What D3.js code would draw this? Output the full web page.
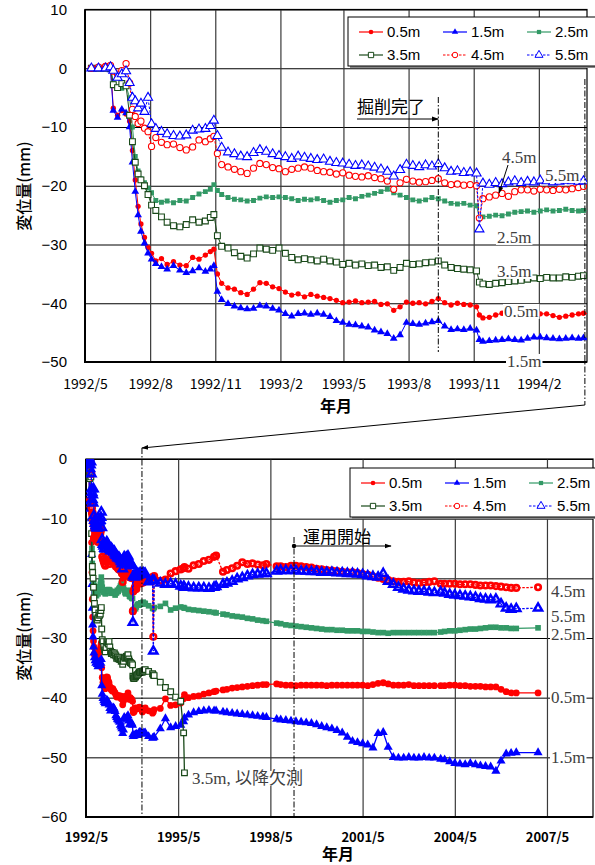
<!DOCTYPE html>
<html>
<head>
<meta charset="utf-8">
<script src="https://cdn.jsdelivr.net/npm/d3@7/dist/d3.min.js"></script>
<style>
  body { margin: 0; background: #fff; }
  svg { display: block; }
</style>
</head>
<body>
<script>
// measurement dates: excavation period (both charts) and the later period (bottom chart)
var dates1 = [
  "1992-05-10","1992-05-20","1992-05-30","1992-06-06","1992-06-10","1992-06-16","1992-06-22","1992-06-28","1992-07-03","1992-07-07",
  "1992-07-11","1992-07-15","1992-07-19","1992-07-24","1992-07-29","1992-08-03","1992-08-09","1992-08-17","1992-08-25","1992-09-03",
  "1992-09-12","1992-09-21","1992-09-30","1992-10-09","1992-10-18","1992-10-25","1992-10-30","1992-11-04","1992-11-10","1992-11-19",
  "1992-11-28","1992-12-07","1992-12-16","1992-12-25","1993-01-03","1993-01-12","1993-01-21","1993-01-30","1993-02-08","1993-02-17",
  "1993-02-26","1993-03-07","1993-03-16","1993-03-25","1993-04-03","1993-04-12","1993-04-21","1993-04-30","1993-05-09","1993-05-18",
  "1993-05-27","1993-06-05","1993-06-14","1993-06-23","1993-07-02","1993-07-11","1993-07-20","1993-07-29","1993-08-07","1993-08-16",
  "1993-08-25","1993-09-03","1993-09-12","1993-09-21","1993-09-30","1993-10-09","1993-10-18","1993-10-27","1993-11-05","1993-11-09",
  "1993-11-14","1993-11-23","1993-12-02","1993-12-11","1993-12-20","1993-12-29","1994-01-07","1994-01-16","1994-01-25","1994-02-03",
  "1994-02-12","1994-02-21","1994-03-02","1994-03-11","1994-03-20","1994-03-29","1994-04-05"
];
var dates2 = [
  "1994-05-15","1994-07-01","1994-07-10","1994-07-20","1994-10-01","1994-12-01","1995-02-01","1995-04-01","1995-06-01","1995-07-05",
  "1995-07-15","1995-09-01","1995-11-01","1996-01-01","1996-03-01","1996-05-01","1996-07-01","1996-07-25","1996-10-15","1996-12-01",
  "1997-02-01","1997-04-01","1997-06-01","1997-08-01","1997-10-01","1997-12-01","1998-02-01","1998-03-15","1998-07-15","1998-09-01",
  "1998-11-01","1999-01-01","1999-03-01","1999-05-01","1999-07-01","1999-09-01","1999-11-01","2000-01-01","2000-03-01","2000-05-01",
  "2000-07-01","2000-09-01","2000-11-01","2001-01-01","2001-03-01","2001-05-01","2001-07-01","2001-09-01","2001-11-01","2002-01-01",
  "2002-03-01","2002-05-01","2002-07-01","2002-09-01","2002-11-01","2003-01-01","2003-03-01","2003-05-01","2003-07-01","2003-09-01",
  "2003-11-15","2004-01-01","2004-03-01","2004-05-01","2004-07-01","2004-09-01","2004-11-01","2005-01-01","2005-03-01","2005-05-01",
  "2005-07-01","2005-09-01","2005-11-01","2006-01-01","2006-03-01","2006-05-01","2007-01-15"
];

// displacement (mm) by depth
var s05a = [
  0, 0.1, 0.5, 0.5, -6.8, -8.0, -7.2, -7.8, -9.0, -14.0,
  -19.0, -23.5, -26.5, -28.8, -30.5, -31.5, -32.8, -32.4, -33.4, -32.9,
  -33.5, -33.6, -32.2, -32.5, -31.8, -31.2, -30.8, -35.0, -36.6, -37.4,
  -37.6, -38.2, -38.5, -37.6, -36.5, -36.6, -37.2, -37.5, -38.1, -38.6,
  -38.4, -38.9, -38.5, -38.8, -39.0, -39.2, -39.5, -39.9, -39.8, -39.6,
  -39.9, -39.8, -39.7, -40.2, -40.1, -41.2, -40.6, -39.8, -40.0, -39.9,
  -40.1, -39.7, -39.2, -39.9, -40.3, -40.0, -40.2, -40.3, -40.6, -42.0,
  -42.5, -42.4, -42.0, -41.7, -41.9, -41.8, -41.8, -41.7, -41.6, -41.8,
  -41.8, -42.1, -42.4, -42.2, -42.0, -41.8, -41.7
];
var s05b = [
  -42.2, -42.6, -42.4, -42.0, -41.8, -40.2, -41.3, -41.2, -40.9, -40.2,
  -39.5, -40.0, -39.8, -39.7, -39.4, -39.2, -39.0, -38.9, -38.7, -38.6,
  -38.4, -38.3, -38.2, -38.1, -38.0, -37.9, -37.8, -37.8, -37.7, -37.8,
  -37.9, -37.9, -38.0, -37.9, -37.9, -37.9, -37.9, -37.9, -38.0, -37.9,
  -37.9, -37.9, -37.9, -37.9, -37.9, -37.9, -38.0, -37.8, -37.6, -37.5,
  -37.7, -37.9, -37.9, -37.9, -37.8, -38.0, -38.0, -38.0, -38.0, -38.0,
  -38.0, -38.0, -37.9, -37.9, -38.0, -38.0, -38.1, -38.1, -38.1, -38.2,
  -38.2, -38.2, -38.6, -39.0, -39.2, -39.2, -39.2
];
var s15a = [
  0, 0, 0, -0.3, -7.2, -8.4, -7.0, -7.6, -10.0, -16.0,
  -21.0, -25.0, -27.8, -29.8, -31.5, -32.5, -33.3, -33.8, -34.2, -33.6,
  -34.4, -34.8, -34.5, -34.0, -34.6, -34.2, -33.6, -38.0, -39.4, -40.1,
  -40.5, -40.8, -41.0, -40.9, -40.4, -40.5, -40.9, -41.2, -41.8, -42.2,
  -41.8, -41.7, -41.9, -41.7, -41.9, -42.3, -43.0, -43.3, -43.6, -43.7,
  -43.9, -44.1, -44.6, -44.9, -45.2, -46.0, -45.4, -43.3, -43.5, -43.6,
  -43.4, -43.2, -43.0, -43.9, -44.5, -44.4, -44.5, -44.3, -44.6, -46.2,
  -46.5, -46.4, -46.3, -46.2, -46.1, -46.2, -46.3, -46.0, -45.8, -45.8,
  -45.9, -46.0, -46.1, -46.0, -45.9, -46.0, -45.9
];
var s15b = [
  -46.5, -46.8, -46.7, -46.6, -45.2, -43.5, -45.0, -44.8, -44.6, -44.0,
  -43.4, -42.9, -42.5, -42.3, -42.2, -42.1, -42.2, -42.2, -42.4, -42.5,
  -42.6, -42.7, -42.8, -42.9, -43.0, -43.1, -43.2, -43.3, -43.6, -43.7,
  -43.8, -43.9, -44.0, -44.1, -44.2, -44.3, -44.5, -44.8, -45.0, -45.2,
  -45.5, -45.9, -46.6, -47.3, -47.5, -47.7, -47.9, -48.4, -46.0, -45.8,
  -48.3, -50.0, -50.1, -50.1, -50.0, -50.1, -50.1, -50.0, -50.1, -50.1,
  -50.3, -50.4, -50.7, -51.0, -51.1, -51.2, -51.0, -51.2, -51.4, -51.5,
  -51.6, -52.3, -50.6, -49.4, -49.3, -49.2, -49.2
];
var s25a = [
  0, 0, 0, 0, -2.5, -3.2, -3.4, -3.0, -5.0, -10.0,
  -15.0, -17.5, -18.8, -19.5, -20.4, -21.2, -22.5, -22.8, -22.6, -22.9,
  -22.5, -22.6, -22.0, -21.4, -21.0, -20.6, -19.8, -20.8, -21.5, -22.0,
  -22.3, -22.4, -22.6, -22.5, -22.1, -21.9, -22.0, -21.9, -22.0, -22.2,
  -22.5, -22.3, -22.4, -22.2, -22.5, -22.8, -22.5, -22.4, -22.0, -22.2,
  -21.8, -21.6, -21.3, -21.0, -20.6, -21.2, -21.6, -22.0, -22.4, -22.6,
  -22.4, -22.0, -22.2, -22.6, -23.0, -23.1, -23.0, -23.3, -23.4, -25.6,
  -25.3, -25.2, -25.0, -25.1, -24.8, -24.5, -24.4, -24.3, -24.5, -24.3,
  -24.1, -24.3, -24.2, -24.0, -24.2, -24.3, -24.2
];
var s25b = [
  -24.6, -25.0, -25.1, -24.9, -24.7, -24.2, -25.3, -25.0, -24.8, -24.9,
  -25.0, -25.2, -25.3, -25.4, -25.5, -25.6, -25.7, -25.8, -26.0, -26.1,
  -26.3, -26.4, -26.5, -26.7, -26.8, -27.0, -27.1, -27.2, -27.5, -27.6,
  -27.8, -27.9, -28.0, -28.1, -28.2, -28.3, -28.4, -28.5, -28.6, -28.6,
  -28.7, -28.7, -28.8, -28.8, -28.8, -28.9, -28.9, -29.0, -29.1, -29.1,
  -29.2, -29.1, -29.1, -29.1, -29.1, -29.1, -29.1, -29.1, -29.1, -29.1,
  -29.0, -28.9, -28.8, -28.8, -28.7, -28.6, -28.5, -28.5, -28.4, -28.3,
  -28.2, -28.2, -28.3, -28.3, -28.4, -28.4, -28.3
];
var s35a = [
  0, 0, 0, 0, -2.8, -3.3, -2.6, -3.0, -8.0, -12.5,
  -16.0, -18.0, -19.0, -20.0, -21.5, -23.3, -24.2, -25.3, -26.2, -26.8,
  -27.0, -26.6, -25.8, -26.2, -26.0, -25.4, -24.9, -28.5, -30.3, -30.6,
  -31.4, -32.0, -32.3, -31.6, -30.6, -30.8, -31.0, -30.6, -31.5, -32.2,
  -32.6, -32.4, -32.6, -32.8, -32.5, -32.8, -33.0, -33.4, -33.2, -33.5,
  -33.3, -33.6, -33.5, -33.9, -33.8, -34.4, -33.9, -33.2, -33.4, -33.3,
  -33.1, -33.0, -32.8, -33.5, -33.9, -34.1, -34.2, -34.3, -34.5, -36.4,
  -36.7, -36.8, -36.6, -36.5, -36.3, -36.2, -36.1, -35.9, -35.7, -35.8,
  -35.6, -35.7, -35.7, -35.5, -35.6, -35.4, -35.3
];
// 3.5m: no readings after 1995/7
var s35b = [-35.6, -36.0, -36.2, -36.3, -37.4, -38.3, -39.0, -39.9, -40.6, -45.9, -52.6];
var s45a = [
  0, 0.2, 0.3, 0.5, -0.5, -1.0, -0.4, 0.8, -2.5, -7.0,
  -8.2, -9.4, -9.0, -10.2, -10.8, -13.3, -11.8, -12.6, -13.0, -12.9,
  -13.5, -13.9, -13.4, -12.2, -12.5, -12.0, -11.6, -14.5, -16.4, -16.8,
  -17.2, -17.6, -17.9, -17.0, -16.2, -16.4, -16.9, -17.1, -17.6, -17.2,
  -17.0, -16.8, -17.0, -17.4, -17.6, -17.7, -18.0, -17.8, -18.2, -18.4,
  -18.5, -18.3, -18.6, -18.8, -19.2, -20.6, -19.5, -18.9, -19.2, -19.4,
  -19.3, -19.1, -18.8, -19.5, -19.8, -19.7, -19.9, -19.8, -20.0, -25.5,
  -22.2, -21.9, -21.6, -21.3, -21.8, -21.0, -20.7, -20.7, -20.9, -20.6,
  -20.7, -20.8, -20.6, -20.7, -20.5, -20.3, -20.1
];
var s45b = [
  -20.3, -19.8, -29.8, -19.6, -20.4, -20.2, -19.2, -18.8, -18.5, -18.3,
  -18.1, -18.4, -17.8, -17.6, -17.1, -16.9, -16.4, -16.2, -18.9, -18.6,
  -18.3, -17.9, -17.3, -17.6, -17.5, -17.7, -17.8, -17.6, -18.0, -18.0,
  -18.1, -17.9, -17.9, -18.0, -18.1, -18.2, -18.4, -18.5, -18.6, -18.7,
  -18.8, -18.9, -19.0, -19.0, -19.1, -19.3, -19.4, -19.7, -19.9, -20.1,
  -20.3, -20.5, -20.6, -20.6, -20.5, -20.7, -20.8, -20.7, -20.6, -20.5,
  -20.9, -20.9, -20.9, -20.9, -21.0, -21.0, -21.0, -21.1, -21.2, -21.2,
  -21.2, -21.3, -21.4, -21.5, -21.6, -21.6, -21.5
];
var s55a = [
  0, 0, 0, 0.2, -0.4, -1.6, -1.0, -0.5, -2.5, -5.0,
  -5.6, -6.8, -6.0, -7.4, -5.0, -9.5, -10.3, -10.8, -11.2, -11.5,
  -11.6, -11.4, -10.6, -10.4, -10.3, -9.8, -8.9, -11.5, -13.5, -14.3,
  -14.6, -15.0, -15.1, -14.4, -13.9, -14.2, -14.6, -14.9, -15.1, -15.4,
  -15.0, -15.2, -15.4, -15.6, -15.5, -15.9, -16.1, -16.2, -16.4, -16.6,
  -16.5, -16.7, -16.9, -17.2, -17.6, -18.4, -17.3, -16.4, -16.6, -16.8,
  -16.5, -16.7, -16.3, -17.0, -17.6, -17.5, -17.8, -17.7, -17.9, -27.4,
  -19.6, -19.8, -19.5, -19.7, -19.4, -19.2, -19.5, -19.3, -19.4, -19.1,
  -19.2, -19.4, -19.3, -19.1, -19.2, -19.3, -19.2
];
var s55b = [
  -20.6, -20.3, -32.2, -20.4, -20.8, -21.0, -20.9, -21.0, -21.3, -21.4,
  -21.5, -21.5, -21.6, -21.6, -21.6, -21.7, -21.5, -21.4, -21.0, -20.8,
  -20.5, -20.1, -19.9, -19.6, -19.4, -19.3, -19.2, -19.2, -18.8, -18.7,
  -18.7, -18.7, -18.7, -18.8, -18.8, -18.9, -18.9, -19.0, -19.0, -19.0,
  -19.1, -19.1, -19.2, -19.2, -19.3, -19.4, -19.6, -19.7, -19.8, -19.2,
  -20.5, -21.0, -21.5, -21.8, -22.0, -22.1, -22.2, -22.2, -22.3, -22.4,
  -22.3, -22.5, -22.7, -22.8, -22.9, -23.0, -23.1, -23.2, -23.4, -23.5,
  -23.6, -23.5, -24.3, -25.0, -25.2, -25.1, -25.0
];

var depthNames = ["0.5m", "1.5m", "2.5m", "3.5m", "4.5m", "5.5m"];
var topTicks = ["1992-05-01", "1992-08-01", "1992-11-01", "1993-02-01", "1993-05-01", "1993-08-01", "1993-11-01", "1994-02-01"];
var bottomTicks = ["1992-05-01", "1995-05-01", "1998-05-01", "2001-05-01", "2004-05-01", "2007-05-01"];

var parse = d3.timeParse("%Y-%m-%d");
var dates = dates1.concat(dates2).map(parse);
var values = [
  s05a.concat(s05b), s15a.concat(s15b), s25a.concat(s25b),
  s35a.concat(s35b), s45a.concat(s45b), s55a.concat(s55b)
];

var styles = [
  { color: "#ff0000", dash: null, sym: d3.symbolCircle, open: false },
  { color: "#0000ff", dash: null, sym: d3.symbolTriangle, open: false },
  { color: "#339966", dash: null, sym: d3.symbolSquare, open: false },
  { color: "#1a4a1a", dash: null, sym: d3.symbolSquare, open: true },
  { color: "#ff0000", dash: "2.5,1.5", sym: d3.symbolCircle, open: true },
  { color: "#0000ff", dash: "2.5,1.5", sym: d3.symbolTriangle, open: true }
];

var gothic = "'Noto Sans CJK JP', sans-serif";
var arial = "'Liberation Sans', Arial, sans-serif";
var serif = "'Liberation Serif', 'Noto Sans CJK JP', serif";

var svg = d3.select("body").append("svg").attr("width", 595).attr("height", 865);
var defs = svg.append("defs");
defs.append("marker").attr("id", "arrow")
  .attr("viewBox", "0 0 10 10").attr("refX", 9).attr("refY", 5)
  .attr("markerWidth", 7).attr("markerHeight", 7).attr("orient", "auto")
  .append("path").attr("d", "M0,1.5L10,5L0,8.5Z").attr("fill", "#000");

function drawChart(o) {
  var x = d3.scaleTime().domain(o.xDomain).range([o.left, o.right]);
  var y = d3.scaleLinear().domain(o.yDomain).range([o.bottom, o.top]);
  var w = o.right - o.left, h = o.bottom - o.top;
  var g = svg.append("g");

  defs.append("clipPath").attr("id", o.id).append("rect")
    .attr("x", o.left).attr("y", o.top).attr("width", w).attr("height", h);

  // grid
  g.append("g").attr("transform", "translate(" + o.left + ",0)")
    .call(d3.axisLeft(y).tickValues(o.yTicks).tickSize(-w).tickFormat(""))
    .call(function(a) { a.select(".domain").remove(); })
    .selectAll("line").attr("stroke", "#000").attr("stroke-width", 1);
  g.append("g").attr("transform", "translate(0," + o.bottom + ")")
    .call(d3.axisBottom(x).tickValues(o.xTicks.slice(1)).tickSize(-h).tickFormat(""))
    .call(function(a) { a.select(".domain").remove(); })
    .selectAll("line").attr("stroke", "#3a3a3a").attr("stroke-width", 1.2);

  // frame
  g.append("rect").attr("x", o.left).attr("y", o.top).attr("width", w).attr("height", h)
    .attr("fill", "none").attr("stroke", "#000").attr("stroke-width", 1.2);
  g.append("path").attr("d", "M" + o.left + "," + o.top + "V" + o.bottom + "H" + o.right)
    .attr("fill", "none").attr("stroke", "#000").attr("stroke-width", 2);

  // series
  var plot = g.append("g").attr("clip-path", "url(#" + o.id + ")");
  var line = d3.line().x(function(p) { return x(p.date); }).y(function(p) { return y(p.v); });
  values.forEach(function(vals, k) {
    var st = styles[k];
    var pts = dates.map(function(d, i) { return { date: d, v: vals[i] }; })
      .filter(function(p) { return p.v != null; });
    plot.append("path").datum(pts).attr("d", line)
      .attr("fill", "none").attr("stroke", st.color).attr("stroke-width", o.lineW)
      .attr("stroke-dasharray", st.dash);
    plot.append("g").selectAll("path").data(pts).join("path")
      .attr("transform", function(p) { return "translate(" + x(p.date) + "," + y(p.v) + ")"; })
      .attr("d", d3.symbol(st.sym, o.sizes[k]))
      .attr("fill", st.open ? o.openFill[k] : st.color)
      .attr("stroke", st.open ? st.color : "none")
      .attr("stroke-width", st.open ? o.openStroke[k] : 0);
  });

  // axis labels
  g.append("g").attr("transform", "translate(" + o.left + ",0)")
    .call(d3.axisLeft(y).tickValues(o.yTicks).tickSize(0).tickPadding(o.left - 67))
    .call(function(a) { a.select(".domain").remove(); })
    .selectAll("text").attr("font-family", arial).attr("font-size", 15).attr("fill", "#000");
  g.append("g").attr("transform", "translate(0," + o.bottom + ")")
    .call(d3.axisBottom(x).tickValues(o.xTicks).tickSize(0).tickPadding(o.xPad)
      .tickFormat(d3.timeFormat("%Y/%-m")))
    .call(function(a) { a.select(".domain").remove(); })
    .selectAll("text").attr("font-family", gothic).attr("font-size", o.xFont)
    .attr("font-weight", o.xBold ? "bold" : "normal").attr("fill", "#000");

  g.append("text").attr("transform", "translate(30," + o.yTitle + ") rotate(-90)")
    .attr("text-anchor", "middle").attr("font-family", gothic).attr("font-size", 16)
    .attr("font-weight", 500).text("変位量(mm)");
  g.append("text").attr("x", o.xTitle[0]).attr("y", o.xTitle[1])
    .attr("text-anchor", "middle").attr("font-family", gothic).attr("font-size", o.xTitle[2])
    .attr("font-weight", "bold").text("年月");

  // legend
  var lg = g.append("g").attr("transform", "translate(" + o.legend[0] + "," + o.legend[1] + ")");
  lg.append("rect").attr("x", 2).attr("y", 2).attr("width", 250).attr("height", 49).attr("fill", "#888");
  lg.append("rect").attr("width", 250).attr("height", 49).attr("fill", "#fff")
    .attr("stroke", "#000").attr("stroke-width", 1);
  depthNames.forEach(function(name, k) {
    var st = styles[k];
    var cx = [11, 95, 179][k % 3], cy = [15, 38][Math.floor(k / 3)];
    lg.append("line").attr("x1", cx).attr("x2", cx + 24).attr("y1", cy).attr("y2", cy)
      .attr("stroke", st.color).attr("stroke-width", 1.2).attr("stroke-dasharray", st.dash);
    lg.append("path").attr("transform", "translate(" + (cx + 12) + "," + cy + ")")
      .attr("d", d3.symbol(st.sym, [17, 18, 18, 28, 24, 28][k]))
      .attr("fill", st.open ? "#fff" : st.color)
      .attr("stroke", st.open ? st.color : "none").attr("stroke-width", 1);
    lg.append("text").attr("x", cx + 28).attr("y", cy).attr("dy", "0.36em")
      .attr("font-family", arial).attr("font-size", 15).text(name);
  });

  return { x: x, y: y };
}

var chartTop = drawChart({
  id: "clipTop", left: 85, right: 587, top: 9.5, bottom: 362,
  xDomain: [parse("1992-05-01"), parse("1994-04-10")], yDomain: [-50, 10],
  yTicks: d3.range(-50, 11, 10), xTicks: topTicks.map(parse),
  xFont: 14, xBold: false, xPad: 17, yTitle: 186, xTitle: [336, 412, 16],
  lineW: 1, sizes: [22, 26, 24, 34, 30, 36],
  openFill: ["#fff", "#fff", "#fff", "#fff", "#fff", "#fff"], openStroke: [1, 1, 1, 1.1, 1.1, 1.1],
  legend: [348, 17]
});

var chartBot = drawChart({
  id: "clipBot", left: 86, right: 593, top: 459, bottom: 817,
  xDomain: [parse("1992-05-01"), parse("2008-10-29")], yDomain: [-60, 0],
  yTicks: d3.range(-60, 1, 10), xTicks: bottomTicks.map(parse),
  xFont: 13, xBold: true, xPad: 16, yTitle: 636, xTitle: [338, 860, 16],
  lineW: 1.3, sizes: [36, 36, 32, 32, 24, 30],
  openFill: ["none", "none", "none", "#fff", "none", "none"], openStroke: [1, 1, 1, 1.2, 2.6, 2.4],
  legend: [350, 468]
});

// annotations
function dashDot(x, y1, y2) {
  svg.append("line").attr("x1", x).attr("x2", x).attr("y1", y1).attr("y2", y2)
    .attr("stroke", "#000").attr("stroke-width", 1).attr("stroke-dasharray", "6,2,1.5,2");
}
function arrow(x1, y1, x2, y2) {
  svg.append("line").attr("x1", x1).attr("y1", y1).attr("x2", x2).attr("y2", y2)
    .attr("stroke", "#000").attr("stroke-width", 1).attr("marker-end", "url(#arrow)");
}
function tag(x, y, txt) {
  var t = svg.append("text").attr("x", x).attr("y", y).attr("dy", "0.35em")
    .attr("font-family", serif).attr("font-size", 17).attr("fill", "#404040").text(txt);
  var b = t.node().getBBox();
  svg.insert("rect", function() { return t.node(); })
    .attr("x", b.x - 1).attr("y", b.y + 2).attr("width", b.width + 2).attr("height", b.height - 4)
    .attr("fill", "#fff");
}

// excavation finished
var xEx = chartTop.x(parse("1993-09-12"));
dashDot(xEx, 97, 352);
arrow(357, 119, xEx, 119);
svg.append("text").attr("x", 357).attr("y", 113).attr("font-family", gothic).attr("font-size", 17)
  .text("掘削完了");

// link from the end of the top chart to the bottom chart
var xEndTop = chartTop.x(parse("1994-04-07")), xEndBot = chartBot.x(parse("1994-02-25"));
dashDot(xEndTop, 79, 405);
arrow(xEndTop, 405, xEndBot, 448);
dashDot(xEndBot, 448, 817);

// operation start
var xOp = chartBot.x(parse("1999-02-06"));
dashDot(xOp, 537, 817);
svg.append("circle").attr("cx", xOp).attr("cy", 546).attr("r", 2.2).attr("fill", "#000");
arrow(xOp, 546, 391, 546);
svg.append("text").attr("x", 303).attr("y", 543).attr("font-family", gothic).attr("font-size", 17)
  .text("運用開始");

// depth labels, top chart
tag(502, 157, "4.5m");
arrow(508, 165, 499, 193);
tag(545, 175, "5.5m");
tag(497, 237, "2.5m");
tag(497, 271, "3.5m");
tag(504, 311, "0.5m");
tag(507, 361, "1.5m");

// depth labels, bottom chart
tag(551, 591, "4.5m");
tag(551, 616, "5.5m");
tag(551, 634, "2.5m");
tag(551, 697, "0.5m");
tag(551, 757, "1.5m");
tag(192, 778, "3.5m, 以降欠測");
</script>
</body>
</html>
